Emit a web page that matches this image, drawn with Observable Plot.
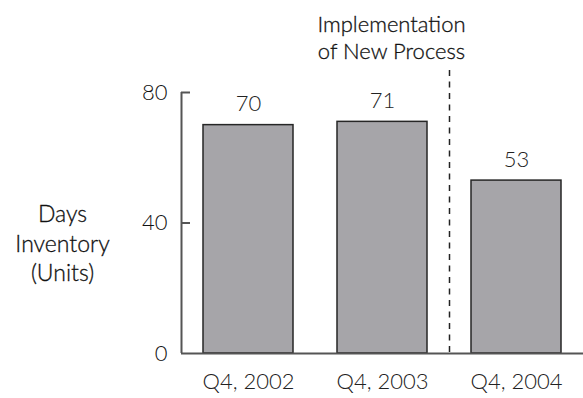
<!DOCTYPE html>
<html>
<head>
<meta charset="utf-8">
<script src="https://cdn.jsdelivr.net/npm/d3@7"></script>
<script src="https://cdn.jsdelivr.net/npm/@observablehq/plot@0.6"></script>
<style>
  html, body { margin: 0; padding: 0; background: #fff; }
  #chart svg { display: block; }
</style>
</head>
<body>
<div id="chart"></div>
<script>
const quarters = ["Q4, 2002", "Q4, 2003", "Q4, 2004"];
const inventory = [70, 71, 53];
const yTicks = [0, 40, 80];
const innerTicks = [40, 80];
const annotationText = "Implementation\nof New Process";
const yLabelText = "Days\nInventory\n(Units)";
const processStart = "Q4, 2004";

const data = quarters.map((q, i) => ({quarter: q, value: inventory[i]}));

const chart = Plot.plot({
  width: 583,
  height: 398,
  marginLeft: 181,
  marginRight: 0,
  marginTop: 92,
  marginBottom: 45,
  style: {fontFamily: "Lato, 'Open Sans', sans-serif", fontWeight: 300, color: "#111", background: "#fff"},
  x: {domain: quarters, paddingInner: 0.33, paddingOuter: 0.165, align: 0.5, axis: null},
  y: {domain: [0, 80], axis: null},
  marks: [
    Plot.barY(data, {x: "quarter", y: "value", fill: "#a6a5a9", stroke: "#262626", strokeWidth: 1.5}),
    Plot.ruleY([0], {stroke: "#555", strokeWidth: 2}),
    Plot.ruleX([quarters[0]], {dx: -67, stroke: "#555", strokeWidth: 2}),
    Plot.ruleY(innerTicks, {stroke: "#555", strokeWidth: 2, insetRight: 393}),
    Plot.ruleX([processStart], {dx: -67, insetTop: -22, stroke: "#222", strokeWidth: 1.5, strokeDasharray: "6,5.5"}),
    Plot.axisY({ticks: yTicks, tickSize: 0, tickPadding: 14, fontSize: 22, fill: "#111", label: null}),
    Plot.axisX({tickSize: 0, tickPadding: 20, fontSize: 22, fill: "#222", label: null}),
    Plot.text(data, {x: "quarter", y: "value", text: d => String(d.value), dy: -21, lineAnchor: "middle", fontSize: 22, fill: "#222"}),
    Plot.text([annotationText], {x: () => quarters[1], frameAnchor: "top", lineAnchor: "top", dx: 9, dy: -80, fontSize: 22, lineHeight: 1.23, fill: "#111", stroke: "#111", strokeWidth: 0.3}),
    Plot.text([yLabelText], {frameAnchor: "left", textAnchor: "middle", dx: -119, dy: 19, fontSize: 23, lineHeight: 1.3, fill: "#111", stroke: "#111", strokeWidth: 0.3})
  ]
});

document.getElementById("chart").appendChild(chart);
</script>
</body>
</html>
